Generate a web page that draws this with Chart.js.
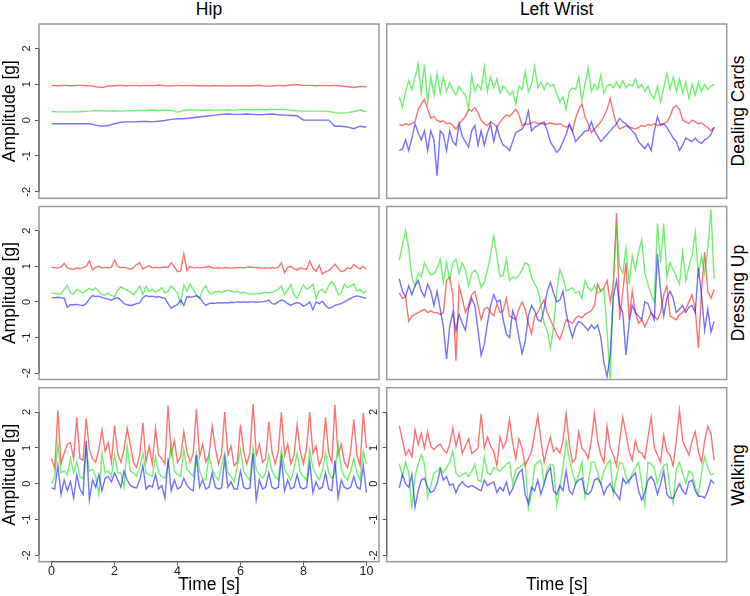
<!DOCTYPE html>
<html>
<head>
<meta charset="utf-8">
<script src="https://cdn.jsdelivr.net/npm/chart.js@4.4.0/dist/chart.umd.min.js"></script>
<style>
  body { margin: 0; background: #fff; }
  #wrap { position: relative; width: 750px; height: 596px; overflow: hidden; font-family: 'Liberation Sans', Arial, sans-serif; }
  #wrap canvas { position: absolute; left: 0; top: 0; }
  .lbl { position: absolute; font-size: 17.5px; line-height: 20px; height: 20px; white-space: nowrap; color: #000; }
  .col { top: -1px; transform: translateX(-50%); }
  .row { transform: translate(-50%, -50%) rotate(-90deg); }
</style>
</head>
<body>
<div id="wrap">
  <div class="lbl col" style="left:209px">Hip</div>
  <div class="lbl col" style="left:556.7px">Left Wrist</div>
  <div class="lbl row" style="left:738px;top:111px">Dealing Cards</div>
  <div class="lbl row" style="left:738px;top:293px">Dressing Up</div>
  <div class="lbl row" style="left:738px;top:474.7px">Walking</div>
</div>
<script>
// tick labels
const xTicks = [0, 2, 4, 6, 8, 10];
const yTicks = [-2, -1, 0, 1, 2];

// Hip / Dealing Cards, one sample every 0.2 s
const hipCardsRed = [0.97,0.96,0.97,0.96,0.97,0.97,0.96,0.93,0.91,0.95,0.96,0.97,0.96,0.97,0.96,0.97,0.96,0.98,0.96,0.95,0.97,0.96,0.97,0.96,0.96,0.95,0.96,0.96,0.95,0.96,0.96,0.95,0.96,0.97,0.94,0.95,0.97,0.96,0.98,0.99,0.97,0.97,0.96,0.97,0.96,0.97,0.95,0.93,0.91,0.94,0.93];
const hipCardsGreen = [0.24,0.23,0.23,0.23,0.23,0.24,0.25,0.27,0.26,0.25,0.26,0.25,0.26,0.26,0.27,0.27,0.28,0.27,0.28,0.27,0.22,0.27,0.28,0.28,0.27,0.29,0.28,0.28,0.29,0.28,0.30,0.29,0.29,0.30,0.29,0.30,0.30,0.29,0.28,0.26,0.25,0.25,0.25,0.25,0.24,0.21,0.19,0.21,0.24,0.28,0.23];
const hipCardsBlue = [-0.10,-0.10,-0.10,-0.10,-0.10,-0.10,-0.10,-0.14,-0.17,-0.15,-0.10,-0.06,-0.05,-0.05,-0.04,-0.04,-0.05,-0.03,-0.01,0.02,0.04,0.04,0.06,0.08,0.10,0.12,0.14,0.16,0.17,0.16,0.16,0.17,0.16,0.15,0.16,0.17,0.15,0.14,0.13,0.12,0,0,0,0,0,-0.17,-0.17,-0.19,-0.24,-0.17,-0.20];

// Hip / Dressing Up, every 0.1 s
const hipDressRed = [
  0.97,0.96,0.95,0.98,1.08,0.96,0.93,0.91,0.95,0.93,
  0.97,1.0,1.15,0.9,0.97,1.0,0.95,0.97,0.96,0.97,
  1.18,1.0,0.96,0.97,0.95,0.92,0.96,1.05,1.1,0.92,
  0.98,1.02,0.95,0.97,0.96,0.97,0.98,0.97,1.1,0.98,
  0.85,0.87,1.35,0.88,1.0,0.95,0.97,0.96,0.97,0.98,
  1.0,0.96,0.95,0.96,0.95,0.96,0.96,0.95,0.96,0.96,
  0.97,0.96,0.97,0.98,0.97,0.96,0.96,0.95,0.96,0.95,
  0.96,0.95,0.97,1.1,0.82,0.97,1.0,0.93,0.9,0.95,
  0.93,0.92,1.15,0.95,0.86,1.03,0.78,0.85,0.88,0.95,
  1.06,0.95,0.85,0.88,0.96,0.93,1.05,0.98,0.93,1.0,
  0.92];
const hipDressGreen = [
  0.25,0.24,0.23,0.22,0.35,0.47,0.25,0.22,0.35,0.3,
  0.25,0.33,0.38,0.32,0.4,0.3,0.2,0.2,0.25,0.18,
  0.15,0.33,0.42,0.37,0.33,0.28,0.2,0.32,0.45,0.2,
  0.43,0.3,0.35,0.28,0.32,0.4,0.25,0.3,0.45,0.35,
  0.25,-0.05,0.48,0.3,0.5,0.35,0.2,0.1,0.35,0.45,
  0.25,0.22,0.28,0.3,0.27,0.3,0.33,0.3,0.28,0.3,
  0.25,0.27,0.24,0.22,0.22,0.24,0.23,0.25,0.27,0.25,
  0.27,0.3,0.35,0.45,0.2,0.35,0.48,0.2,0.1,0.3,
  0.48,0.35,0.4,0.5,0.1,0.3,0.35,0.25,0.45,0.58,
  0.45,0.2,0.25,0.5,0.4,0.45,0.5,0.3,0.35,0.25,
  0.3];
const hipDressBlue = [
  0.12,0.12,0.13,0.12,0.1,-0.15,-0.08,-0.08,-0.07,-0.09,
  -0.1,-0.05,0.08,0.18,0.15,0.16,0.12,0.1,0.08,0.05,
  0.1,0.12,0.05,-0.05,-0.08,-0.1,-0.08,-0.05,-0.03,0.12,
  0.18,0.15,0.16,0.13,0.15,0.12,0.1,-0.05,-0.18,-0.12,
  -0.08,0.05,-0.1,0.15,0.13,0.15,0.17,0.12,0.0,-0.1,
  -0.05,-0.03,-0.04,-0.02,-0.03,-0.02,-0.03,-0.01,-0.02,0.0,
  -0.01,0.0,-0.01,0.0,0.0,-0.01,0.0,0.0,0.02,0.05,
  -0.05,-0.06,0.0,0.05,0.02,-0.05,-0.1,-0.05,-0.02,-0.05,
  -0.12,-0.08,0.0,-0.22,0.0,-0.05,0.02,-0.1,-0.18,-0.15,
  -0.1,-0.07,-0.05,0.0,0.05,0.1,0.15,0.17,0.15,0.12,
  0.1];

// Hip / Walking, every 0.1 s
const hipWalkRed = [
  0.7,0.42,2.05,0.55,0.85,1.1,1.15,0.7,1.85,0.7,
  0.65,1.82,0.95,0.7,0.6,0.95,1.5,0.9,1.15,0.6,
  1.62,0.85,0.6,0.95,1.55,1.1,0.6,0.45,0.8,1.7,
  0.6,1.05,0.55,1.55,0.8,0.7,0.55,2.18,0.8,1.2,
  0.6,0.75,1.45,0.9,0.6,0.85,2.08,0.75,1.1,0.6,
  0.8,1.6,1.0,0.55,0.85,2.0,0.8,1.05,0.5,0.6,
  1.65,0.9,0.55,0.85,2.23,0.8,1.1,0.6,0.7,1.73,
  0.9,0.55,0.9,2.0,0.8,1.1,0.55,0.8,1.65,0.9,
  0.55,1.0,2.0,0.85,1.05,0.5,0.75,1.85,0.85,0.6,
  2.2,0.8,1.1,0.6,0.45,0.9,1.8,0.8,0.5,1.98,
  1.0];
const hipWalkGreen = [
  0.0,0.2,1.1,0.3,0.35,0.25,0.7,0.3,0.6,0.2,
  0.15,1.0,0.35,0.4,0.2,-0.3,0.85,0.3,0.35,0.2,
  0.8,0.3,0.3,-0.1,1.05,0.35,0.3,0.2,0.45,0.85,
  0.3,0.25,0.2,0.75,0.3,0.2,0.15,0.5,1.05,0.35,
  0.25,0.2,0.95,0.4,0.3,0.2,0.85,0.35,0.15,0.1,
  0.8,0.4,0.2,0.1,0.5,0.85,0.3,0.2,0.05,0.5,
  0.95,0.35,0.2,0.1,1.0,0.4,0.25,0.15,0.3,0.8,
  0.35,0.2,0.1,0.95,0.4,0.25,0.1,0.4,0.85,0.3,
  0.2,0.1,0.95,0.45,0.25,0.1,0.35,0.85,0.3,0.15,
  0.3,1.1,0.4,0.2,0.1,0.35,0.7,0.3,0.1,0.9,
  0.55];
const hipWalkBlue = [
  -0.12,-0.15,0.5,-0.3,0.1,-0.2,0.05,-0.4,0.25,-0.15,
  -0.3,1.2,-0.45,0.1,-0.1,0.25,-0.2,0.15,0.2,0.05,
  0.3,0.1,-0.1,0.35,0.1,-0.05,-0.1,-0.12,0.1,0.5,
  -0.15,-0.05,-0.1,0.25,-0.15,-0.05,-0.4,0.7,-0.2,0.1,
  -0.15,-0.1,0.15,-0.05,-0.15,-0.2,0.8,-0.1,0.1,-0.15,
  -0.1,0.3,-0.1,-0.15,-0.12,0.7,-0.1,0.05,-0.15,-0.15,
  0.35,-0.1,-0.15,-0.12,0.85,-0.45,0.1,-0.15,-0.1,0.3,
  -0.1,-0.15,-0.1,0.7,-0.2,0.1,-0.15,-0.1,0.25,-0.1,
  -0.15,-0.1,0.6,-0.25,0.05,-0.15,-0.1,0.3,-0.15,-0.2,
  0.65,-0.4,0.1,-0.1,-0.15,-0.1,0.2,-0.1,-0.15,0.5,
  -0.25];

// Left Wrist / Dealing Cards, every 0.1 s
const wristCardsRed = [
  -0.12,-0.15,-0.1,-0.13,-0.1,-0.05,0.3,0.45,0.58,0.3,
  0.05,0.1,0.0,-0.05,-0.02,-0.1,-0.08,-0.15,-0.25,-0.1,
  0.0,0.1,0.3,0.25,0.35,0.2,0.0,-0.1,-0.15,-0.05,
  -0.1,-0.2,-0.05,0.05,0.15,0.1,0.2,0.3,0.15,-0.15,
  -0.1,-0.12,-0.08,-0.05,-0.1,-0.08,-0.12,-0.1,-0.08,-0.1,
  -0.12,-0.1,-0.15,-0.2,-0.15,-0.3,0.05,0.3,0.45,0.1,
  -0.1,-0.35,-0.25,-0.15,-0.05,0.1,0.3,0.6,0.2,-0.1,
  -0.25,-0.2,-0.15,-0.2,-0.22,-0.25,-0.2,-0.15,-0.18,-0.12,
  -0.15,-0.1,-0.15,-0.12,-0.1,-0.05,0.1,0.35,0.4,0.3,
  0.0,-0.05,-0.1,0.0,-0.05,-0.1,-0.08,-0.15,-0.2,-0.3,
  -0.2];
const wristCardsGreen = [
  0.65,0.35,0.8,1.1,0.85,1.2,1.56,0.75,1.55,0.5,
  1.2,0.7,1.3,0.75,1.2,0.8,1.05,0.85,0.7,0.95,
  0.8,0.7,0.3,1.25,0.8,1.0,0.85,1.5,0.8,1.2,
  0.9,1.15,0.75,0.95,0.85,0.7,0.8,0.45,0.95,0.85,
  1.35,0.8,1.0,1.5,0.9,1.05,0.85,1.05,0.95,1.0,
  0.75,0.5,0.65,0.3,0.8,0.9,0.85,1.2,0.55,1.0,
  1.45,0.8,1.0,0.85,1.25,0.75,0.95,1.0,0.9,1.05,
  0.9,1.1,0.9,1.0,0.95,1.15,0.9,1.0,0.8,0.95,
  0.7,0.6,0.95,0.5,0.9,1.3,0.85,1.2,0.8,1.15,
  0.75,1.05,0.6,1.0,0.7,1.05,0.8,1.0,0.85,0.95,
  1.0];
const wristCardsBlue = [
  -0.85,-0.8,-0.55,-0.85,-0.5,-0.1,-0.35,-0.55,-0.3,-0.85,
  -0.3,-0.55,-1.55,-0.3,-0.4,-0.85,-0.3,-0.6,-0.7,-0.1,
  -0.45,-0.6,-0.75,-0.3,-0.15,-0.7,-0.3,-0.7,-0.35,-0.1,
  -0.6,-0.2,-0.5,-0.7,-0.75,-0.85,-0.6,-0.35,-0.3,-0.25,
  -0.1,0.25,-0.3,-0.2,-0.15,-0.1,-0.05,-0.3,-0.6,-0.75,
  -0.9,-0.8,-0.6,-0.4,-0.1,-0.3,-0.6,-0.5,-0.4,-0.3,
  -0.3,-0.05,-0.3,-0.45,-0.6,-0.5,-0.4,-0.3,-0.2,-0.1,
  0.05,-0.05,-0.1,-0.2,-0.3,-0.4,-0.6,-0.7,-0.8,-0.65,
  -0.85,-0.3,0.1,-0.15,-0.1,-0.2,-0.35,-0.5,-0.6,-0.85,
  -0.7,-0.5,-0.55,-0.6,-0.5,-0.6,-0.65,-0.55,-0.5,-0.4,
  -0.2];

// Left Wrist / Dressing Up, every 0.1 s
const wristDressRed = [
  0.25,0.1,0.15,-0.55,-0.4,-0.35,-0.3,-0.25,-0.2,-0.3,
  -0.25,-0.3,-0.3,-0.35,-0.3,0.6,0.7,0.2,-1.65,0.45,
  0.1,-0.3,-0.1,0.2,0.3,-0.1,-0.5,-0.2,-0.15,-0.3,
  -0.4,-0.05,-0.3,-0.25,0.1,-0.4,-0.45,-0.5,-0.2,0.0,
  -0.2,-0.6,-0.9,-0.4,-0.3,-0.1,0.05,-0.3,-0.5,-0.7,
  -0.9,-1.05,-0.8,-0.5,-0.55,-0.6,-0.45,-0.4,-0.45,-0.35,
  -0.3,-0.25,-0.1,0.5,0.3,0.4,0.6,0.0,0.5,2.5,
  -0.5,0.3,1.1,-0.5,0.3,-0.3,-0.6,-0.5,-0.7,-0.5,
  -0.3,-0.4,-0.5,-0.3,0.2,0.45,-0.4,-0.45,-0.5,-0.35,
  -0.3,-0.2,0.0,0.2,-0.2,-1.3,0.3,1.4,0.3,0.1,
  0.35];
const wristDressGreen = [
  1.17,1.6,2.0,1.5,0.7,0.45,0.8,0.7,1.1,0.9,
  0.75,0.8,0.95,1.2,0.55,1.1,0.6,1.1,1.2,0.8,
  1.1,0.9,0.45,0.8,0.9,0.75,0.4,0.55,0.9,1.3,
  1.85,1.3,0.7,0.75,1.2,0.6,0.7,0.65,0.75,0.9,
  1.1,1.05,0.7,0.5,0.35,-0.1,-0.6,-0.8,-1.3,-0.7,
  0.3,0.9,0.7,0.3,0.35,0.4,0.25,0.3,0.1,0.6,
  0.4,0.3,0.45,0.25,0.3,0.35,-0.8,-2.25,0.5,2.2,
  1.0,0.8,1.5,0.5,1.3,0.9,1.4,1.75,0.8,0.5,
  0.2,0.0,2.2,1.1,2.2,0.7,1.1,0.9,0.7,0.5,
  1.4,0.6,1.0,1.3,1.95,0.8,1.3,0.8,1.5,2.6,
  0.65];
const wristDressBlue = [
  0.65,0.3,0.15,0.45,0.2,0.45,0.6,0.3,0.15,0.5,
  0.3,-0.1,0.3,-0.2,-0.7,-1.6,-0.7,-0.3,-0.8,-0.35,
  -0.6,-0.8,-0.2,0.1,-0.1,-0.8,-1.5,-1.2,-0.6,-0.1,
  0.2,0.0,0.05,-0.5,-0.9,-1.0,-0.25,-0.5,-1.0,-1.45,
  -1.1,-0.4,-0.1,-0.25,-0.5,-0.55,-0.2,0.3,0.55,0.25,
  0.0,0.05,0.3,-0.3,-0.7,-1.0,-0.7,-0.55,-0.6,-0.7,
  -0.8,-0.65,-0.75,-0.65,-1.0,-1.7,-2.1,-1.5,0.15,0.6,
  -0.1,-0.3,-1.5,-0.6,-0.1,-0.3,-0.4,-0.5,0.0,-0.05,
  -0.3,-0.5,1.35,0.3,-0.4,0.1,0.3,0.1,-0.3,-0.2,
  -0.1,-0.3,-0.15,-0.1,-0.3,0.95,0.2,-0.8,-0.2,-0.85,
  -0.55];

// Left Wrist / Walking, every 0.1 s
const wristWalkRed = [
  1.62,1.2,0.8,0.95,0.75,1.5,1.1,1.4,1.0,1.45,
  1.05,0.95,1.05,1.1,0.95,0.85,1.1,1.55,1.05,1.4,
  0.85,1.05,1.25,0.85,0.9,1.0,1.95,1.0,1.3,1.05,
  0.9,0.5,1.3,1.0,1.2,1.8,1.15,0.7,1.25,1.0,
  0.5,0.7,0.9,1.4,1.9,1.2,0.6,1.0,1.3,0.9,
  1.0,0.85,1.2,1.95,1.1,0.6,0.7,1.45,1.0,0.9,
  0.7,1.2,1.95,1.2,0.8,0.6,1.6,1.0,0.8,0.5,
  1.2,1.85,1.4,0.9,0.65,1.2,0.9,0.85,0.7,1.3,
  1.85,1.0,0.8,0.6,1.35,0.9,0.8,0.5,1.2,2.05,
  1.2,1.0,0.8,1.2,1.45,0.9,0.6,1.2,1.6,1.4,
  0.65];
const wristWalkGreen = [
  0.56,0.2,0.6,0.3,-0.7,0.2,0.55,0.8,0.55,-0.4,
  -0.05,0.3,0.35,0.45,0.3,0.45,0.6,0.9,0.3,0.2,
  0.25,0.3,0.2,0.35,0.55,0.1,0.05,0.75,0.3,0.25,
  0.45,0.4,0.35,0.45,0.55,0.6,0.0,0.4,0.45,0.5,
  0.6,-0.7,-0.3,0.5,0.6,0.65,0.0,0.4,0.55,0.5,
  -0.6,-0.1,0.5,1.2,0.7,0.3,0.0,0.25,0.6,-0.4,
  0.0,0.6,0.6,0.3,0.0,0.35,0.55,0.65,-0.3,0.2,
  0.6,0.55,0.2,0.0,0.3,0.45,0.6,0.0,-0.6,0.6,
  0.55,0.45,0.0,0.3,0.5,0.55,-0.2,-0.55,0.4,0.6,
  0.3,0.0,0.35,0.3,-0.1,-0.3,0.3,0.75,0.45,0.25,
  0.28];
const wristWalkBlue = [
  -0.12,0.25,0.0,-0.1,0.25,-0.65,-0.2,0.1,0.15,-0.1,
  -0.25,-0.2,0.0,0.4,0.1,0.2,-0.05,0.0,-0.25,-0.05,
  0.05,-0.05,-0.1,-0.05,-0.1,-0.15,-0.2,0.1,-0.05,0.0,
  0.05,-0.25,-0.1,-0.2,0.05,-0.3,-0.15,0.1,0.3,0.4,
  -0.3,-0.55,-0.1,-0.2,0.1,-0.3,0.0,0.3,0.45,-0.2,
  -0.3,-0.05,-0.2,0.35,-0.2,-0.3,0.0,0.1,0.15,-0.25,
  -0.3,-0.2,0.1,0.15,0.0,-0.3,-0.1,0.0,-0.2,-0.3,
  -0.45,0.15,0.0,0.1,0.2,0.3,-0.2,-0.45,-0.25,0.1,
  0.2,0.05,-0.3,0.0,0.35,-0.3,-0.4,-0.4,-0.2,0.0,
  -0.2,-0.3,0.05,0.1,-0.2,-0.35,-0.35,-0.4,-0.2,0.1,
  0.0];

const panels = [
  { col: 0, row: 0, step: 0.2, red: hipCardsRed, green: hipCardsGreen, blue: hipCardsBlue },
  { col: 1, row: 0, step: 0.1, red: wristCardsRed, green: wristCardsGreen, blue: wristCardsBlue },
  { col: 0, row: 1, step: 0.1, red: hipDressRed, green: hipDressGreen, blue: hipDressBlue },
  { col: 1, row: 1, step: 0.1, red: wristDressRed, green: wristDressGreen, blue: wristDressBlue },
  { col: 0, row: 2, step: 0.1, red: hipWalkRed, green: hipWalkGreen, blue: hipWalkBlue },
  { col: 1, row: 2, step: 0.1, red: wristWalkRed, green: wristWalkGreen, blue: wristWalkBlue }
];

// page layout of the panel boxes
const W = 750, H = 596;
const colEdges = [[39, 379], [386.7, 726.7]];
const rowEdges = [[24, 198.3], [206.5, 379.5], [387.7, 561.7]];

Chart.defaults.font.family = "'Liberation Sans', Arial, sans-serif";
Chart.defaults.color = '#222';

// panel box, R-style axis lines and the rotated y tick labels
const framePlugin = {
  id: 'frame',
  afterDatasetsDraw(chart, args, opts) {
    const { ctx, chartArea: a } = chart;
    ctx.save();
    ctx.strokeStyle = '#9a9a9a';
    ctx.lineWidth = 1.5;
    ctx.strokeRect(a.left, a.top, a.right - a.left, a.bottom - a.top);
    ctx.strokeStyle = '#555';
    ctx.lineWidth = 1;
    if (opts.yAxis) {
      const y = chart.scales.y;
      ctx.beginPath();
      ctx.moveTo(a.left, y.getPixelForValue(yTicks[0]));
      ctx.lineTo(a.left, y.getPixelForValue(yTicks[yTicks.length - 1]));
      ctx.stroke();
      ctx.fillStyle = '#222';
      ctx.font = "11px 'Liberation Sans', Arial, sans-serif";
      ctx.textAlign = 'center';
      ctx.textBaseline = 'middle';
      yTicks.forEach(v => {
        ctx.save();
        ctx.translate(a.left - 12.5, y.getPixelForValue(v));
        ctx.rotate(-Math.PI / 2);
        ctx.fillText(String(v), 0, 0);
        ctx.restore();
      });
    }
    if (opts.xAxis) {
      const x = chart.scales.x;
      ctx.beginPath();
      ctx.moveTo(x.getPixelForValue(xTicks[0]), a.bottom);
      ctx.lineTo(x.getPixelForValue(xTicks[xTicks.length - 1]), a.bottom);
      ctx.stroke();
    }
    ctx.restore();
  }
};

function series(values, step) {
  return values.map((v, i) => ({ x: +(i * step).toFixed(2), y: v }));
}

const wrap = document.getElementById('wrap');
panels.forEach(p => {
  const canvas = document.createElement('canvas');
  canvas.width = W;
  canvas.height = H;
  wrap.appendChild(canvas);

  const [left, right] = colEdges[p.col];
  const [top, bottom] = rowEdges[p.row];
  const showY = p.col === 0 || p.row === 2;
  const showX = p.row === 2;
  const yAxisW = p.col === 0 ? left : 22;

  new Chart(canvas, {
    type: 'line',
    data: {
      datasets: [
        { data: series(p.red, p.step), borderColor: 'rgba(255,20,20,0.6)', order: 3 },
        { data: series(p.green, p.step), borderColor: 'rgba(20,230,20,0.6)', order: 2 },
        { data: series(p.blue, p.step), borderColor: 'rgba(20,20,255,0.6)', order: 1 }
      ]
    },
    options: {
      responsive: false,
      animation: false,
      events: [],
      elements: {
        line: { borderWidth: 1.4, tension: 0 },
        point: { radius: 0 }
      },
      layout: {
        padding: {
          left: showY ? left - yAxisW : left,
          top: top,
          right: W - right,
          bottom: showX ? 0 : H - bottom
        }
      },
      plugins: {
        legend: { display: false },
        tooltip: { enabled: false },
        frame: { yAxis: showY, xAxis: showX && p.col === 0 }
      },
      scales: {
        x: {
          type: 'linear',
          min: -0.4,
          max: 10.4,
          display: showX,
          afterFit: s => { if (showX) s.height = H - bottom; },
          afterBuildTicks: s => { s.ticks = xTicks.map(v => ({ value: v })); },
          border: { display: false },
          grid: { display: p.col === 0, drawOnChartArea: false, tickLength: 4, color: '#555' },
          ticks: { display: p.col === 0, padding: -2, font: { size: 12.5 }, color: '#222', maxRotation: 0, autoSkip: false },
          title: { display: true, text: 'Time [s]', font: { size: 17.5 }, color: '#000', padding: { top: 0, bottom: 0 } }
        },
        y: {
          min: -2.18,
          max: 2.68,
          display: showY,
          afterFit: s => { if (showY) s.width = yAxisW; },
          afterBuildTicks: s => { s.ticks = yTicks.map(v => ({ value: v })); },
          border: { display: false },
          grid: { drawOnChartArea: false, tickLength: 4, color: '#555' },
          ticks: { display: false },
          title: { display: p.col === 0, text: 'Amplitude [g]', font: { size: 17.5 }, color: '#000', padding: { top: 0, bottom: 0 } }
        }
      }
    },
    plugins: [framePlugin]
  });
});
</script>
</body>
</html>
